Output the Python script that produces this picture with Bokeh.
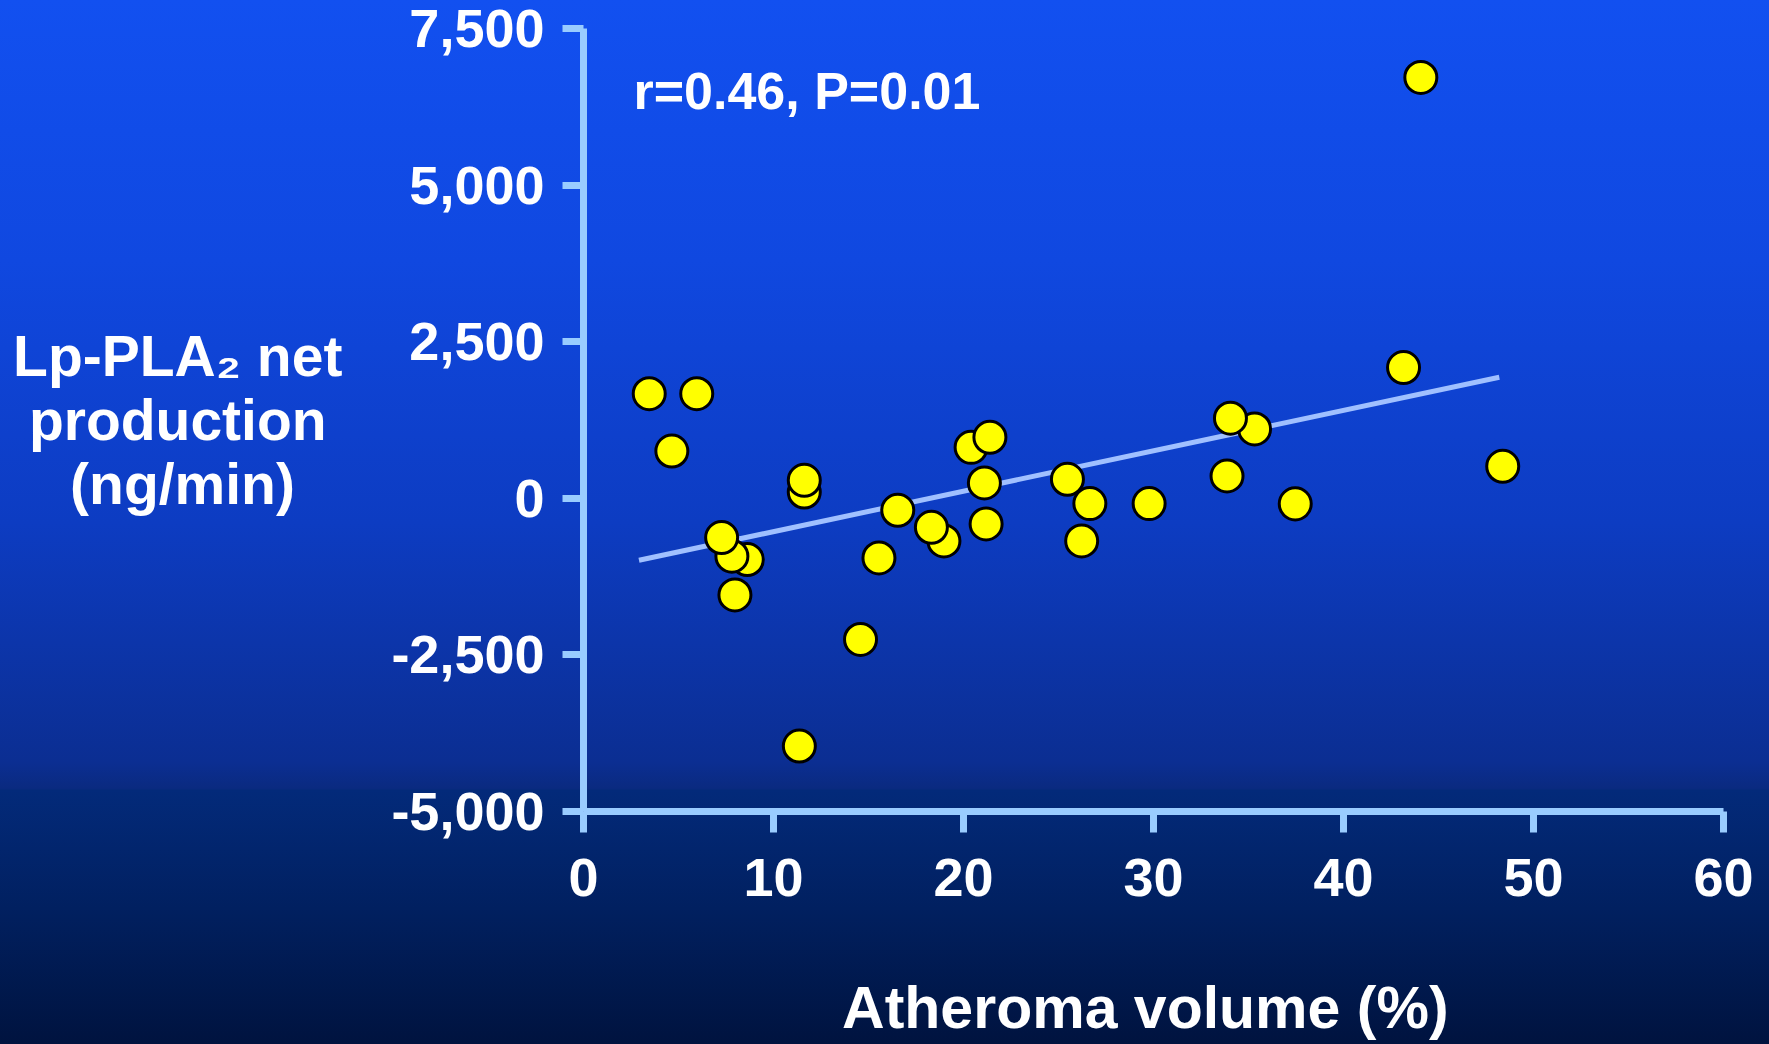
from bokeh.plotting import figure
from bokeh.models import (Range1d, FixedTicker, NumeralTickFormatter, Label,
                          GlobalInlineStyleSheet)
from bokeh.embed import file_html
from bokeh.resources import INLINE

# ---- data ----
atheroma = [11.62, 11.62, 3.46, 5.96, 4.65, 8.62, 7.81, 7.27, 7.97, 11.36,
            14.58, 15.55, 16.54, 18.97, 18.31, 20.40, 21.39, 21.10, 21.19,
            25.47, 26.65, 26.22, 29.77, 33.87, 35.32, 34.05, 37.46, 43.16,
            44.07, 48.38]
lp_pla2 = [100, 287, 1670, 1670, 755, -978, -925, -627, -1542, -3956,
           -2254, -952, -191, -680, -463, 813, 973, 245, -410,
           303, -85, -680, -85, 356, 1107, 1278, -89, 2088,
           6718, 510]
fit_x = [2.92, 48.2]
fit_y = [-989, 1933]
x_ticks = [0, 10, 20, 30, 40, 50, 60]
y_ticks = [-5000, -2500, 0, 2500, 5000, 7500]
stat_text = "r=0.46, P=0.01"
NB = "\u00a0"
x_title = "Atheroma volume (%)" + NB
y_title = "Lp-PLA\u2082 net\nproduction" + NB + "\n(ng/min)" + NB * 3

FONT = "Liberation Sans"
AXIS_COLOR = "#99CCFF"

p = figure(width=1769, height=1044, output_backend="svg", toolbar_location=None,
           x_range=Range1d(0, 60), y_range=Range1d(-5000, 7500),
           min_border_left=583, min_border_right=46, min_border_top=28,
           min_border_bottom=233)

p.background_fill_alpha = 0
p.border_fill_alpha = 0
p.outline_line_color = None
p.xgrid.visible = False
p.ygrid.visible = False

grad = ("linear-gradient(to bottom, #1250F0 0%, #1048E0 25%, #0D3CC2 50%, "
        "#0B2E92 73%, #0A2A80 75.5%, #032A7A 75.7%, #012060 87%, #00133F 100%)")
p.styles = {"background": grad}
p.stylesheets = [GlobalInlineStyleSheet(
    css="html{background:" + grad + " no-repeat; min-height:100%; overflow:hidden;} "
        "body{margin:0; background:transparent;}")]

for ax in (p.xaxis[0], p.yaxis[0]):
    ax.axis_line_color = AXIS_COLOR
    ax.axis_line_width = 7
    ax.major_tick_line_color = AXIS_COLOR
    ax.major_tick_line_width = 7
    ax.major_tick_in = 0
    ax.major_tick_out = 21
    ax.minor_tick_line_color = None
    ax.major_label_text_font = FONT
    ax.major_label_text_font_style = "bold"
    ax.major_label_text_font_size = "54px"
    ax.major_label_text_color = "white"
    ax.axis_label_text_font = FONT
    ax.axis_label_text_font_style = "bold"
    ax.axis_label_text_color = "white"
    ax.axis_line_cap = "butt"

p.xaxis.ticker = FixedTicker(ticks=x_ticks)
p.yaxis.ticker = FixedTicker(ticks=y_ticks)
p.yaxis.formatter = NumeralTickFormatter(format="0,0")
p.xaxis.major_label_standoff = 26
p.yaxis.major_label_standoff = 18

p.xaxis.axis_label = x_title
p.xaxis.axis_label_text_font_size = "59px"
p.xaxis.axis_label_standoff = 76

p.yaxis.axis_label = y_title
p.yaxis.axis_label_orientation = "horizontal"
p.yaxis.axis_label_text_font_size = "57px"
p.yaxis.axis_label_text_line_height = 1.0
p.yaxis.axis_label_standoff = 46

# regression line
p.line(fit_x, fit_y, line_color="#A0C0FF", line_width=5)

# points
p.scatter(atheroma, lp_pla2, size=32, fill_color="#FFFF00",
          line_color="black", line_width=3)

# stat text
p.add_layout(Label(x=2.63, y=6510, text=stat_text, text_font=FONT,
                   text_font_style="bold", text_font_size="52px",
                   text_color="white", text_align="left",
                   text_baseline="alphabetic"))

open("out.html", "w").write(file_html(p, INLINE))
